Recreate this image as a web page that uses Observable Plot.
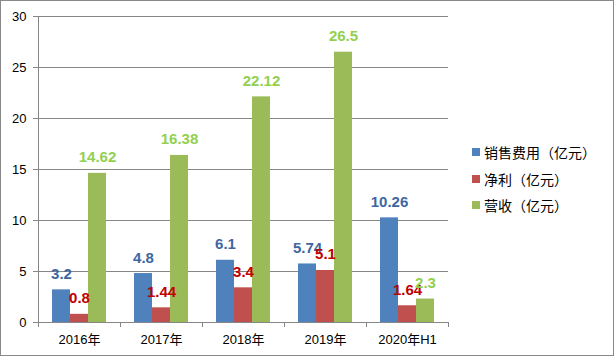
<!DOCTYPE html>
<html>
<head>
<meta charset="utf-8">
<script src="https://cdn.jsdelivr.net/npm/d3@7"></script>
<script src="https://cdn.jsdelivr.net/npm/@observablehq/plot@0.6"></script>
<style>
  body { margin: 0; background: #fff; }
  #wrap { position: relative; width: 614px; height: 356px; overflow: hidden; background: #fff; }
  #border { position: absolute; left: 0; top: 0; width: 612px; height: 354px; border: 1px solid #898989; pointer-events: none; }
  #legend { position: absolute; left: 472px; top: 139px; font-family: "Noto Sans CJK SC", sans-serif; font-size: 14px; color: #000; }
  #legend .row { display: flex; align-items: center; height: 26.5px; }
  #legend .sw { width: 8px; height: 8px; margin-right: 4px; }
</style>
</head>
<body>
<div id="wrap"><div id="legend"></div><div id="border"></div></div>
<script>
const categories = ["2016年", "2017年", "2018年", "2019年", "2020年H1"];
const seriesNames = ["销售费用（亿元）", "净利（亿元）", "营收（亿元）"];
const salesExpense = [3.2, 4.8, 6.1, 5.74, 10.26];
const netProfit = [0.8, 1.44, 3.4, 5.1, 1.64];
const revenue = [14.62, 16.38, 22.12, 26.5, 2.3];
const yTicks = [0, 5, 10, 15, 20, 25, 30];
const barColors = ["#4f81bd", "#c0504d", "#9bbb59"];
const labelColors = ["#3e679f", "#c00000", "#92d050"];

const seriesValues = [salesExpense, netProfit, revenue];
const data = [];
categories.forEach((c, i) => {
  seriesNames.forEach((s, j) => {
    data.push({cat: c, series: s, value: seriesValues[j][i], si: j});
  });
});

const gridColor = "#868686";
const font = "'Liberation Sans', 'Noto Sans CJK SC', sans-serif";

const chart = Plot.plot({
  width: 614,
  height: 356,
  marginLeft: 38,
  marginRight: 166,
  marginTop: 16,
  marginBottom: 34,
  style: {fontFamily: font, fontSize: "13px", color: "#000", background: "transparent", overflow: "visible"},
  fx: {domain: categories, padding: 0, label: null},
  x: {domain: seriesNames, paddingInner: 0, paddingOuter: 0.74, axis: null},
  y: {domain: [0, 30], label: null, axis: null},
  color: {domain: seriesNames, range: barColors},
  marks: [
    Plot.gridY(yTicks, {stroke: gridColor, strokeOpacity: 1}),
    Plot.axisY(yTicks, {tickSize: 5, tickPadding: 7, stroke: gridColor, fill: "#000", label: null, fontSize: 13}),
    Plot.axisFx({anchor: "bottom", tickSize: 0, tickPadding: 12, label: null, fontSize: 13, fill: "#000"}),
    Plot.barY(data, {fx: "cat", x: "series", y: "value", fill: "series"}),
    Plot.ruleY([0], {stroke: gridColor}),
    Plot.text(data, {
      fx: "cat", x: "series", y: "value",
      text: d => String(d.value),
      fill: d => labelColors[d.si],
      lineAnchor: "bottom", dy: -11,
      fontWeight: "bold", fontSize: 15
    })
  ]
});

document.getElementById("wrap").prepend(chart);

// Axis line and category boundary ticks (Excel style), from Plot's own scales
const fx = chart.scale("fx");
const y = chart.scale("y");
const svg = d3.select(chart);
const g = svg.append("g").attr("stroke", gridColor).attr("shape-rendering", "crispEdges");
const x0 = fx.apply(categories[0]);
g.append("line").attr("x1", x0).attr("x2", x0).attr("y1", y.apply(30)).attr("y2", y.apply(0));
const bounds = categories.map(c => fx.apply(c)).concat([fx.apply(categories[categories.length - 1]) + fx.bandwidth]);
bounds.forEach(b => {
  g.append("line").attr("x1", b).attr("x2", b).attr("y1", y.apply(0)).attr("y2", y.apply(0) + 5);
});

// Legend
const legend = d3.select("#legend");
seriesNames.forEach((s, i) => {
  const row = legend.append("div").attr("class", "row");
  row.append("div").attr("class", "sw").style("background", barColors[i]);
  row.append("span").text(s);
});
</script>
</body>
</html>
